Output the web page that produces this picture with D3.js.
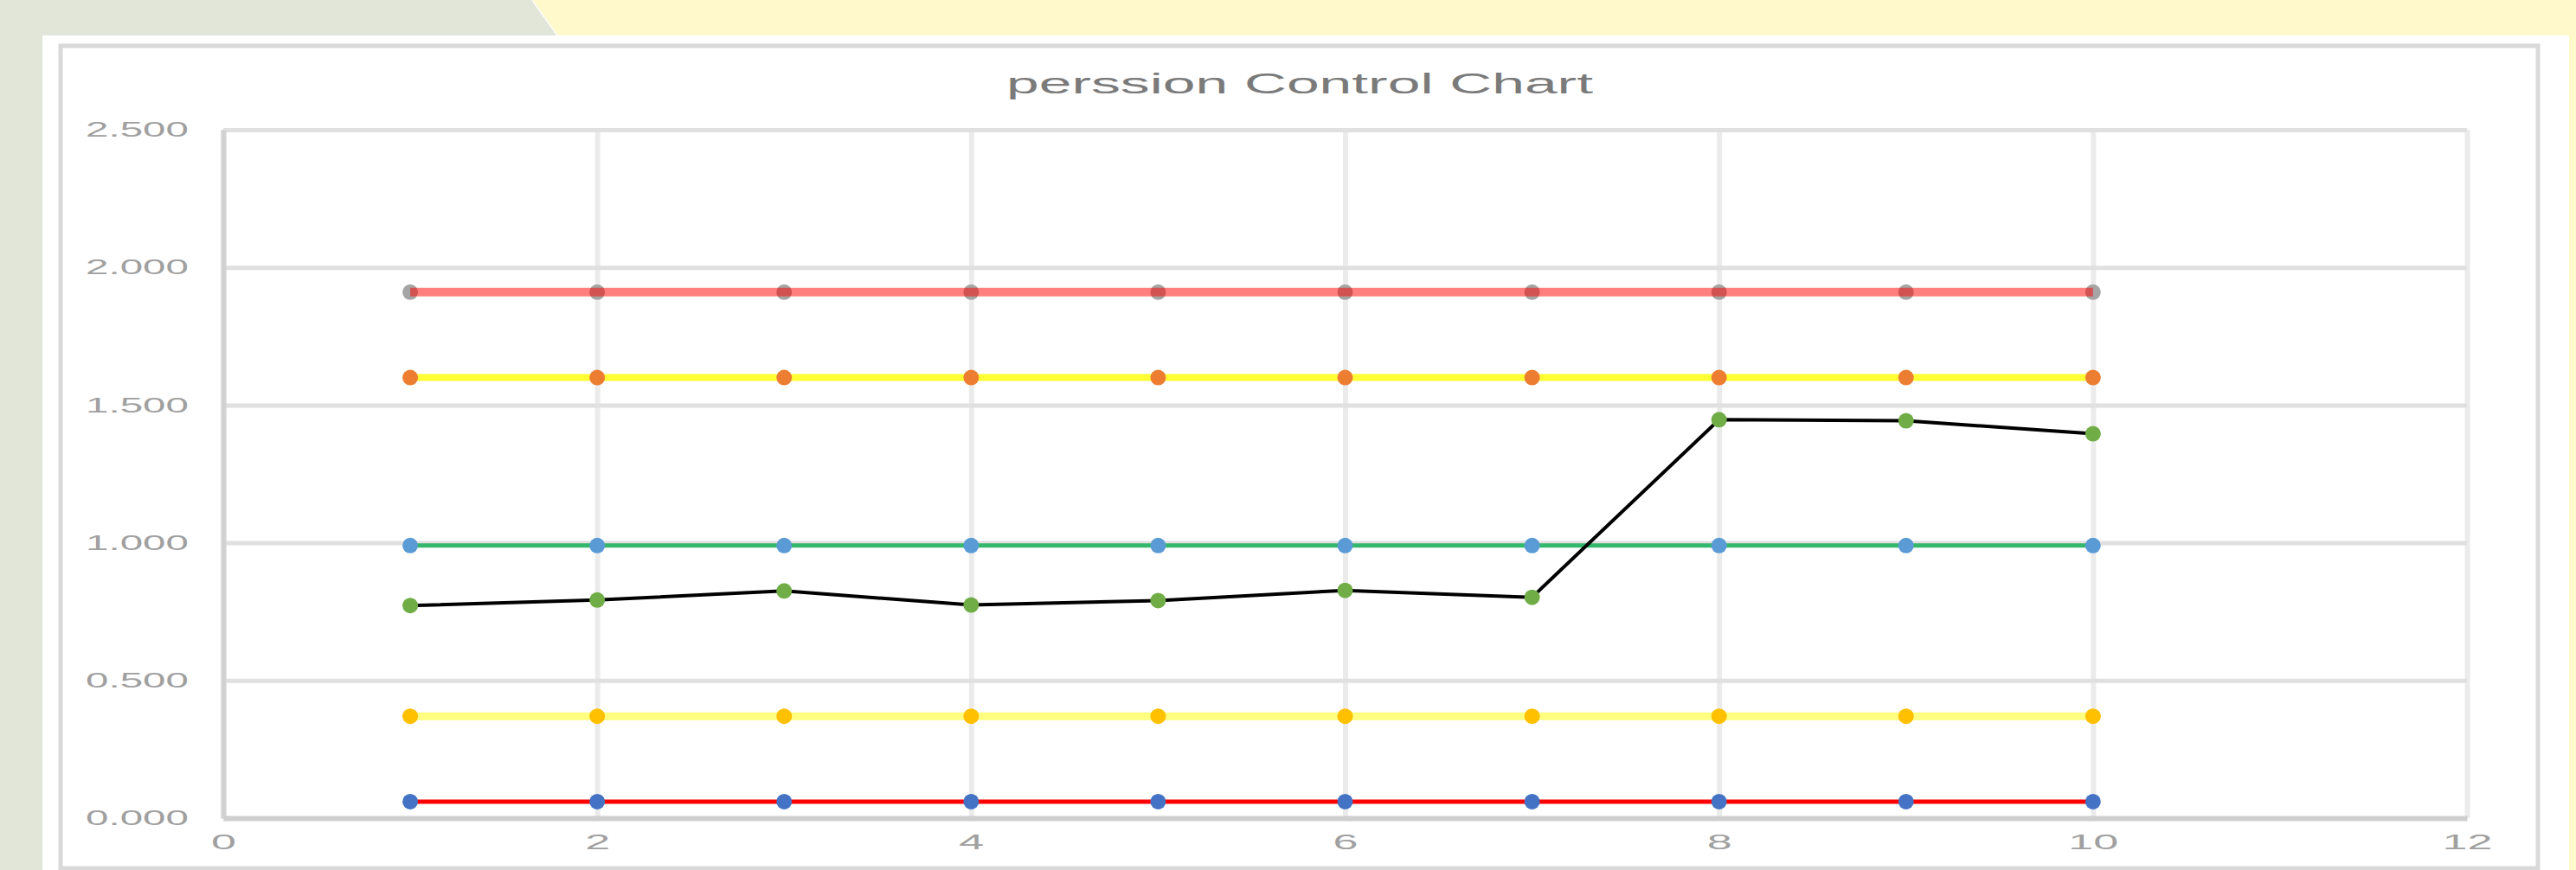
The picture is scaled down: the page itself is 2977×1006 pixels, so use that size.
<!DOCTYPE html>
<html>
<head>
<meta charset="utf-8">
<script src="https://cdn.jsdelivr.net/npm/d3@7"></script>
<style>
  body { margin: 0; background: #e1e6d9; }
  svg { display: block; }
  text { font-family: "Liberation Sans", Arial, sans-serif; }
</style>
</head>
<body>
<script>
// values
const xValues   = [1, 2, 3, 4, 5, 6, 7, 8, 9, 10];
const ucl       = [1.91, 1.91, 1.91, 1.91, 1.91, 1.91, 1.91, 1.91, 1.91, 1.91];
const upper2s   = [1.60, 1.60, 1.60, 1.60, 1.60, 1.60, 1.60, 1.60, 1.60, 1.60];
const center    = [0.99, 0.99, 0.99, 0.99, 0.99, 0.99, 0.99, 0.99, 0.99, 0.99];
const lower2s   = [0.37, 0.37, 0.37, 0.37, 0.37, 0.37, 0.37, 0.37, 0.37, 0.37];
const lcl       = [0.06, 0.06, 0.06, 0.06, 0.06, 0.06, 0.06, 0.06, 0.06, 0.06];
const precision = [0.772, 0.792, 0.825, 0.774, 0.790, 0.827, 0.802, 1.447, 1.443, 1.396];
const yTicks = [0, 0.5, 1, 1.5, 2, 2.5];
const xTicks = [0, 2, 4, 6, 8, 10, 12];
const chartTitle = "perssion Control Chart";

const W = 2977, H = 1006;

const svg = d3.select("body")
  .append("svg")
  .attr("width", W)
  .attr("height", H);

// slide background
svg.append("rect").attr("width", W).attr("height", H).attr("fill", "#e1e6d9");
svg.append("polygon")
  .attr("points", "615,0 " + W + ",0 " + W + ",41 644,41")
  .attr("fill", "#fff9cc");
svg.append("line")
  .attr("x1", 615).attr("y1", 0).attr("x2", 644).attr("y2", 41)
  .attr("stroke", "#fbfbf4").attr("stroke-width", 2);
svg.append("rect").attr("x", 2969).attr("y", 0).attr("width", W - 2969).attr("height", H).attr("fill", "#fff9cc");
svg.append("rect").attr("x", 49).attr("y", 41).attr("width", 2969 - 49).attr("height", H - 41).attr("fill", "#ffffff");

// chart frame
svg.append("rect")
  .attr("x", 70).attr("y", 53)
  .attr("width", 2863).attr("height", 951)
  .attr("fill", "#ffffff")
  .attr("stroke", "#d9d9d9")
  .attr("stroke-width", 5);

svg.append("text")
  .attr("x", 1502).attr("y", 108)
  .attr("text-anchor", "middle")
  .attr("font-size", 33)
  .attr("fill", "#7a7a7a")
  .attr("textLength", 678)
  .attr("lengthAdjust", "spacingAndGlyphs")
  .text(chartTitle);

const x = d3.scaleLinear().domain([0, 12]).range([258, 2851]);
const y = d3.scaleLinear().domain([0, 2.5]).range([946, 150]);

const graph = svg.append("g");

// gridlines
const xGrid = graph.append("g")
  .attr("transform", "translate(0," + y(0) + ")")
  .call(d3.axisBottom(x).tickValues(xTicks).tickSize(-(y(0) - y(2.5))).tickFormat(""));
xGrid.select(".domain").remove();
xGrid.selectAll("line").attr("stroke", "#ebebeb").attr("stroke-width", 6);

const yGrid = graph.append("g")
  .attr("transform", "translate(" + x(0) + ",0)")
  .call(d3.axisLeft(y).tickValues(yTicks).tickSize(-(x(12) - x(0))).tickFormat(""));
yGrid.select(".domain").remove();
yGrid.selectAll("line").attr("stroke", "#e0e0e0").attr("stroke-width", 5);

// axis lines and labels
const yAxisGroup = graph.append("g")
  .attr("transform", "translate(" + x(0) + ",0)")
  .call(d3.axisLeft(y).tickValues(yTicks).tickSize(0).tickPadding(40).tickFormat(d3.format(".3f")));
yAxisGroup.select(".domain").attr("stroke", "#d2d2d2").attr("stroke-width", 6);
yAxisGroup.selectAll("text")
  .attr("font-size", 24)
  .attr("fill", "#a0a0a0")
  .attr("textLength", 119)
  .attr("lengthAdjust", "spacingAndGlyphs");

const xAxisGroup = graph.append("g")
  .attr("transform", "translate(0," + y(0) + ")")
  .call(d3.axisBottom(x).tickValues(xTicks).tickSize(0).tickPadding(19));
xAxisGroup.select(".domain").attr("stroke", "#cfcfcf").attr("stroke-width", 6);
xAxisGroup.selectAll("text")
  .attr("font-size", 24)
  .attr("fill", "#a0a0a0")
  .attr("textLength", d => String(d).length * 29)
  .attr("lengthAdjust", "spacingAndGlyphs");

// series
const series = [
  { values: lcl,       line: "#ff0000", width: 5, opacity: 1,   marker: "#4472c4", lineOnTop: false },
  { values: lower2s,   line: "#ffff80", width: 9, opacity: 1,   marker: "#ffc000", lineOnTop: false },
  { values: center,    line: "#33b86d", width: 5, opacity: 1,   marker: "#5b9bd5", lineOnTop: false },
  { values: upper2s,   line: "#ffff33", width: 8, opacity: 1,   marker: "#ed7d31", lineOnTop: false },
  { values: ucl,       line: "#ff0000", width: 10, opacity: 0.5, marker: "#a5a5a5", lineOnTop: true },
  { values: precision, line: "#000000", width: 4, opacity: 1,   marker: "#70ad47", lineOnTop: false }
];

const line = d3.line()
  .x((d, i) => x(xValues[i]))
  .y(d => y(d));

series.forEach(s => {
  const g = graph.append("g");
  const drawLine = () => g.append("path")
    .attr("d", line(s.values))
    .attr("fill", "none")
    .attr("stroke", s.line)
    .attr("stroke-opacity", s.opacity)
    .attr("stroke-width", s.width);
  const drawMarkers = () => g.selectAll("circle")
    .data(s.values)
    .enter()
    .append("circle")
    .attr("cx", (d, i) => x(xValues[i]))
    .attr("cy", d => y(d))
    .attr("r", 9)
    .attr("fill", s.marker);
  if (s.lineOnTop) { drawMarkers(); drawLine(); }
  else { drawLine(); drawMarkers(); }
});
</script>
</body>
</html>
